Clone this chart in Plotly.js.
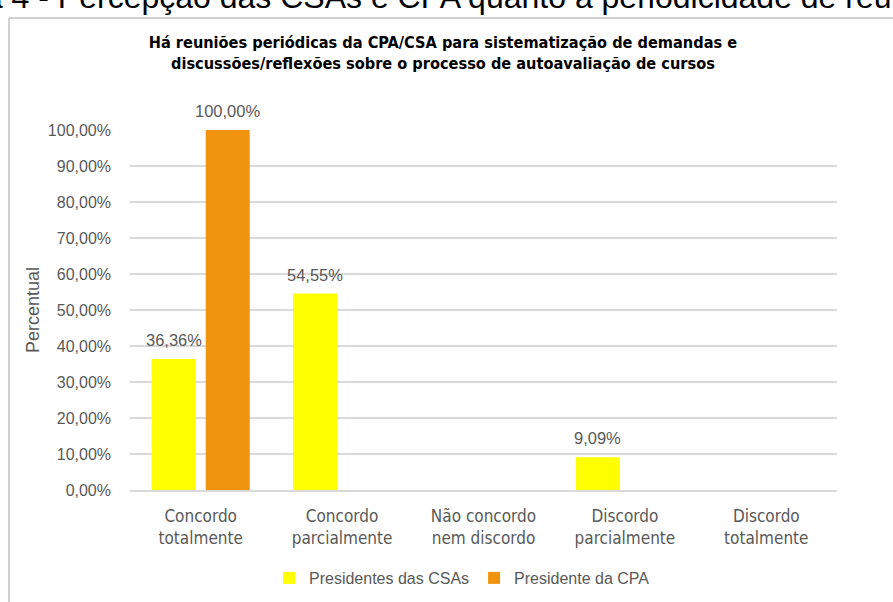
<!DOCTYPE html>
<html>
<head>
<meta charset="utf-8">
<script src="https://cdn.plot.ly/plotly-3.0.1.min.js"></script>
<style>html,body{margin:0;padding:0;background:#fff;}#chart{width:893px;height:602px;}</style>
</head>
<body>
<div id="chart"></div>
<script>
const categories = ["Concordo<br>totalmente", "Concordo<br>parcialmente", "Não concordo<br>nem discordo", "Discordo<br>parcialmente", "Discordo<br>totalmente"];
const seriesNames = ["Presidentes das CSAs", "Presidente da CPA"];
const csas = [0.3636, 0.5455, 0, 0.0909, 0];
const cpa = [1.0, 0, 0, 0, 0];
const yTicks = [0, 0.1, 0.2, 0.3, 0.4, 0.5, 0.6, 0.7, 0.8, 0.9, 1.0];
const titleText = "<b>Há reuniões periódicas da CPA/CSA para sistematização de demandas e<br>discussões/reflexões sobre o processo de autoavaliação de cursos</b>";
const captionText = "Figura 4 - Percepção das CSAs e CPA quanto à periodicidade de reuniões";

const GRAY = "#595959";
const NARROW = "DejaVu Sans Condensed, sans-serif";
const SANS = "Liberation Sans, Arial, sans-serif";
const colors = ["#FFFF00", "#F0940F"];
const seriesVals = [csas, cpa];

const bargap = 0.236, bargroupgap = 0.185;
const slot = (1 - bargap) / seriesVals.length;

const traces = seriesVals.map((vals, s) => ({
  type: "bar",
  name: seriesNames[s],
  x: categories,
  y: vals,
  marker: {color: colors[s]},
  hoverinfo: "skip"
}));

const fmt = v => (v * 100).toFixed(2).replace(".", ",") + "%";
const annotations = [];
seriesVals.forEach((vals, s) => {
  const off = -(1 - bargap) / 2 + slot * (s + 0.5);
  vals.forEach((v, i) => {
    if (v > 0) {
      annotations.push({
        xref: "x", yref: "y", x: i + off, y: v, text: fmt(v),
        showarrow: false, yanchor: "bottom", yshift: 8,
        font: {family: SANS, size: 16.5, color: GRAY}
      });
    }
  });
});

annotations.push({
  xref: "paper", yref: "paper", x: (-90 - 130) / 707, y: (490 - 17) / 360,
  xanchor: "left", yanchor: "bottom", showarrow: false, text: captionText,
  font: {family: SANS, size: 32, color: "#000000"}
});

const layout = {
  width: 893, height: 602,
  margin: {l: 130, r: 56, t: 130, b: 112, pad: 0, autoexpand: false},
  paper_bgcolor: "#ffffff", plot_bgcolor: "#ffffff",
  separators: ",.",
  barmode: "group", bargap: bargap, bargroupgap: bargroupgap,
  title: {
    text: titleText, xref: "container", yref: "container",
    x: 0.496, xanchor: "center", y: 1 - 48 / 602, yanchor: "middle",
    font: {family: NARROW, size: 16.2, color: "#000000"}
  },
  xaxis: {
    type: "category", showgrid: false, showline: true, linecolor: "#D9D9D9", linewidth: 1.5,
    ticks: "", tickfont: {family: NARROW, size: 17, color: GRAY}, ticklabelstandoff: 10,
    fixedrange: true
  },
  yaxis: {
    range: [0, 1], tickvals: yTicks, tickformat: ".2%",
    showgrid: true, gridcolor: "#D9D9D9", gridwidth: 1.5, zeroline: false,
    ticks: "", tickfont: {family: SANS, size: 16, color: GRAY}, ticklabelstandoff: 18,
    title: {text: "Percentual", font: {family: SANS, size: 18, color: GRAY}, standoff: 3},
    fixedrange: true
  },
  legend: {
    orientation: "h", x: (462 - 130) / 707, xanchor: "center",
    yref: "container", y: (602 - 578) / 602, yanchor: "middle",
    font: {family: SANS, size: 16, color: GRAY}, itemclick: false, itemdoubleclick: false
  },
  shapes: [
    {type: "line", xref: "paper", yref: "paper", x0: (9 - 130) / 707, x1: (900 - 130) / 707, y0: (490 - 18) / 360, y1: (490 - 18) / 360, line: {color: "#D0D0D0", width: 2}},
    {type: "line", xref: "paper", yref: "paper", x0: (9 - 130) / 707, x1: (9 - 130) / 707, y0: (490 - 18) / 360, y1: (490 - 610) / 360, line: {color: "#D0D0D0", width: 2}}
  ],
  annotations: annotations,
  showlegend: true
};

Plotly.newPlot("chart", traces, layout, {displayModeBar: false, staticPlot: true});
</script>
</body>
</html>
